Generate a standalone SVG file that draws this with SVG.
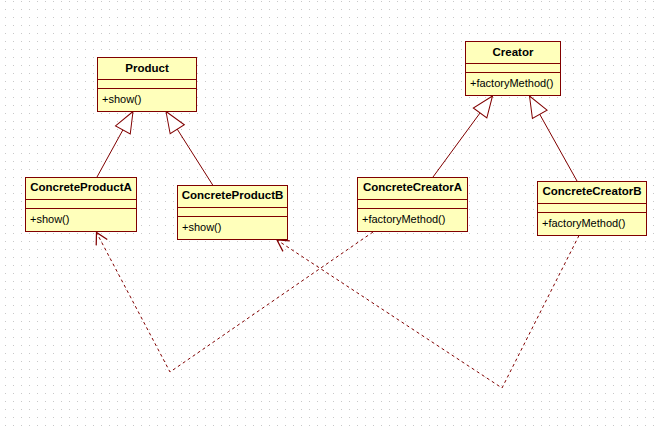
<svg xmlns="http://www.w3.org/2000/svg" width="656" height="427" viewBox="0 0 656 427">
<style>
.box{fill:#ffffbb;stroke:#800000;stroke-width:1}
.sep{stroke:#800000;stroke-width:1}
.title{font-family:"Liberation Sans",Arial,sans-serif;font-weight:bold;font-size:11.5px;fill:#000;text-anchor:middle}
.op{font-family:"Liberation Sans",Arial,sans-serif;font-size:11px;fill:#000}
.gen{fill:none;stroke:#800000;stroke-width:1;marker-end:url(#tri)}
.dep{fill:none;stroke:#800000;stroke-width:1;stroke-dasharray:3,3;marker-end:url(#open)}
</style>
<defs>
<pattern id="grid" x="0" y="0" width="8" height="8" patternUnits="userSpaceOnUse">
<rect x="5" y="1" width="1" height="1" fill="#c8c8c8"/>
</pattern>
<marker id="tri" markerUnits="userSpaceOnUse" markerWidth="30" markerHeight="30" viewBox="-25 -12 30 24" refX="0" refY="0" orient="auto" overflow="visible">
<path d="M0,0 L-21,-8.4 L-21,8.4 Z" fill="#ffffff" stroke="#800000" stroke-width="1"/>
</marker>
<marker id="open" markerUnits="userSpaceOnUse" markerWidth="20" markerHeight="20" viewBox="-12 -8 16 16" refX="0" refY="0" orient="auto" overflow="visible">
<path d="M-9,-5 L0,0 L-9,5" fill="none" stroke="#800000" stroke-width="1"/>
</marker>
</defs>
<rect width="656" height="427" fill="#ffffff"/>
<rect width="656" height="427" fill="url(#grid)"/>

<g id="connectors">
<path class="gen" d="M97,177 L133,111.5"/>
<path class="gen" d="M213,185.5 L166,111.5"/>
<path class="gen" d="M433,177 L492.5,96"/>
<path class="gen" d="M577,181 L529.5,96"/>
<path class="dep" d="M373,232 L170,372 L96.5,232.5"/>
<path class="dep" d="M579,235.5 L502,388 L277,240"/>
</g>

<g id="Product">
<rect class="box" x="97.5" y="57.5" width="99" height="54"/>
<line class="sep" x1="97.5" y1="79.5" x2="196.5" y2="79.5"/>
<line class="sep" x1="97.5" y1="88.5" x2="196.5" y2="88.5"/>
<text class="title" x="147" y="72">Product</text>
<text class="op" x="102" y="103">+show()</text>
</g>

<g id="ConcreteProductA">
<rect class="box" x="25.5" y="177.5" width="111" height="54"/>
<line class="sep" x1="25.5" y1="199.5" x2="136.5" y2="199.5"/>
<line class="sep" x1="25.5" y1="208.5" x2="136.5" y2="208.5"/>
<text class="title" x="81" y="191">ConcreteProductA</text>
<text class="op" x="30" y="223">+show()</text>
</g>

<g id="ConcreteProductB">
<rect class="box" x="177.5" y="185.5" width="110" height="54"/>
<line class="sep" x1="177.5" y1="207.5" x2="287.5" y2="207.5"/>
<line class="sep" x1="177.5" y1="216.5" x2="287.5" y2="216.5"/>
<text class="title" x="232.5" y="199">ConcreteProductB</text>
<text class="op" x="182" y="231">+show()</text>
</g>

<g id="Creator">
<rect class="box" x="465.5" y="41.5" width="95" height="54"/>
<line class="sep" x1="465.5" y1="63.5" x2="560.5" y2="63.5"/>
<line class="sep" x1="465.5" y1="72.5" x2="560.5" y2="72.5"/>
<text class="title" x="513" y="56">Creator</text>
<text class="op" x="470" y="87">+factoryMethod()</text>
</g>

<g id="ConcreteCreatorA">
<rect class="box" x="357.5" y="177.5" width="110" height="54"/>
<line class="sep" x1="357.5" y1="199.5" x2="467.5" y2="199.5"/>
<line class="sep" x1="357.5" y1="208.5" x2="467.5" y2="208.5"/>
<text class="title" x="412.5" y="191">ConcreteCreatorA</text>
<text class="op" x="362" y="223">+factoryMethod()</text>
</g>

<g id="ConcreteCreatorB">
<rect class="box" x="537.5" y="181.5" width="109" height="54"/>
<line class="sep" x1="537.5" y1="203.5" x2="646.5" y2="203.5"/>
<line class="sep" x1="537.5" y1="212.5" x2="646.5" y2="212.5"/>
<text class="title" x="592" y="195">ConcreteCreatorB</text>
<text class="op" x="542" y="227">+factoryMethod()</text>
</g>
</svg>
